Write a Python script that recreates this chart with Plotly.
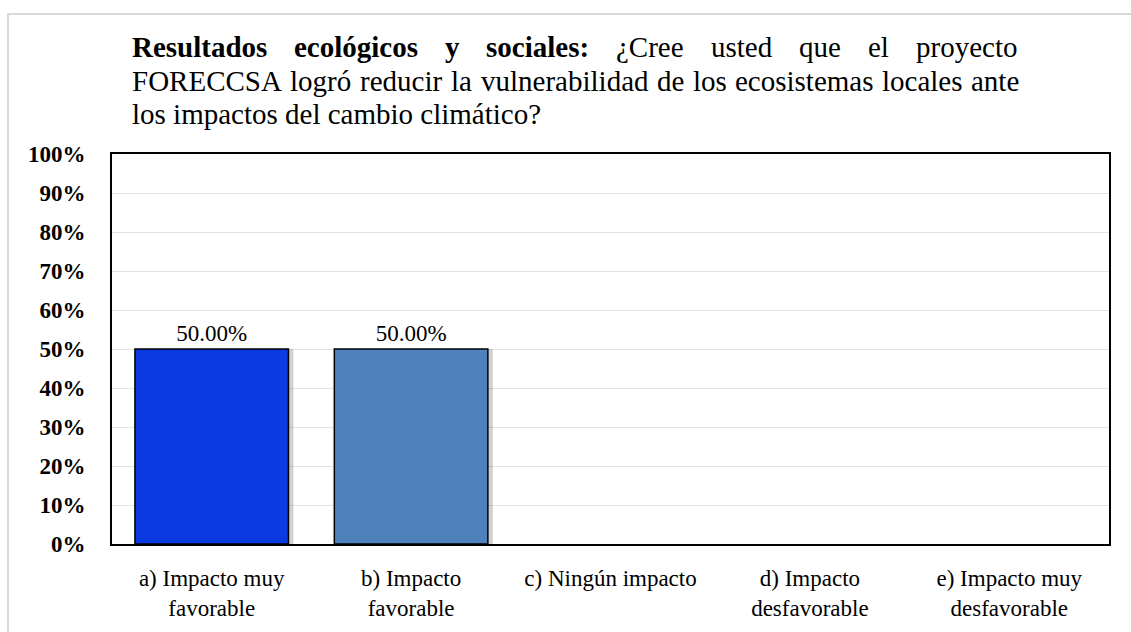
import plotly.graph_objects as go

categories = ["a) Impacto muy<br>favorable", "b) Impacto<br>favorable", "c) Ningún impacto",
              "d) Impacto<br>desfavorable", "e) Impacto muy<br>desfavorable"]
values = [0.50, 0.50, 0.0, 0.0, 0.0]
labels = ["50.00%", "50.00%", "", "", ""]
bar_colors = ["#0A3AE0", "#4F81BD", "#4F81BD", "#4F81BD", "#4F81BD"]

title_line1 = [("<b>Resultados</b>", 130), ("<b>ecológicos</b>", 292), ("<b>y</b>", 443),
               ("<b>sociales:</b>", 484), ("¿Cree", 614), ("usted", 709), ("que", 797),
               ("el", 866), ("proyecto", 914)]
title_line2 = [("FORECCSA", 130), ("logró", 288), ("reducir", 358), ("la", 449),
               ("vulnerabilidad", 479), ("de", 655), ("los", 691), ("ecosistemas", 733),
               ("locales", 880), ("ante", 969)]
title_line3 = "los impactos del cambio climático?"

W, H = 1131, 632
L, R, T, B = 112, 22, 154, 88
PW, PH = W - L - R, H - T - B
FONT = "Liberation Serif"

def px(x):
    return (x - L) / PW

def py(y):
    return (H - B - y) / PH

line_widths = [1.5 if v > 0 else 0 for v in values]

fig = go.Figure()
# soft shadow behind bars
fig.add_trace(go.Bar(
    x=categories, y=values, offset=-0.385 + 0.025, width=0.77,
    marker=dict(color="rgba(0,0,0,0.18)", line=dict(width=0)),
    hoverinfo="skip", showlegend=False,
))
fig.add_trace(go.Bar(
    x=categories, y=values, text=labels, textposition="outside",
    textfont=dict(family=FONT, size=23, color="black"),
    marker=dict(color=bar_colors, line=dict(color="black", width=line_widths)),
    offset=-0.385, width=0.77, cliponaxis=False, showlegend=False,
))

annotations = []
for txt, x in title_line1:
    annotations.append(dict(text=txt, x=px(x), y=py(47), xref="paper", yref="paper",
                            xanchor="left", yanchor="middle", showarrow=False,
                            font=dict(family=FONT, size=29, color="black")))
for txt, x in title_line2:
    annotations.append(dict(text=txt, x=px(x), y=py(81), xref="paper", yref="paper",
                            xanchor="left", yanchor="middle", showarrow=False,
                            font=dict(family=FONT, size=29, color="black")))
annotations.append(dict(text=title_line3, x=px(130), y=py(114), xref="paper", yref="paper",
                        xanchor="left", yanchor="middle", showarrow=False,
                        font=dict(family=FONT, size=29, color="black")))

fig.update_layout(
    width=W, height=H,
    margin=dict(l=L, r=R, t=T, b=B, autoexpand=False),
    paper_bgcolor="white", plot_bgcolor="white",
    annotations=annotations,
    barmode="overlay",
    shapes=[dict(type="rect", xref="paper", yref="paper",
                 x0=px(8), x1=px(1160), y0=py(14), y1=py(660),
                 line=dict(color="#D9D9D9", width=2), layer="below")],
)
fig.update_xaxes(
    type="category", range=[-0.5, 4.5],
    showline=True, linecolor="black", linewidth=2, mirror=True,
    ticks="", ticklabelstandoff=12,
    tickfont=dict(family=FONT, size=23, color="black"),
    showgrid=False, fixedrange=True,
)
fig.update_yaxes(
    range=[0, 1], dtick=0.1, tickformat=".0%",
    showline=True, linecolor="black", linewidth=2, mirror=True,
    showgrid=True, gridcolor="#E3E3E3", gridwidth=1,
    ticks="", ticklabelstandoff=20,
    tickfont=dict(family=FONT, size=23, color="black"),
    zeroline=False, fixedrange=True,
)
fig.update_yaxes(tickprefix="<b>", ticksuffix="</b>")

fig.write_html("out.html")
